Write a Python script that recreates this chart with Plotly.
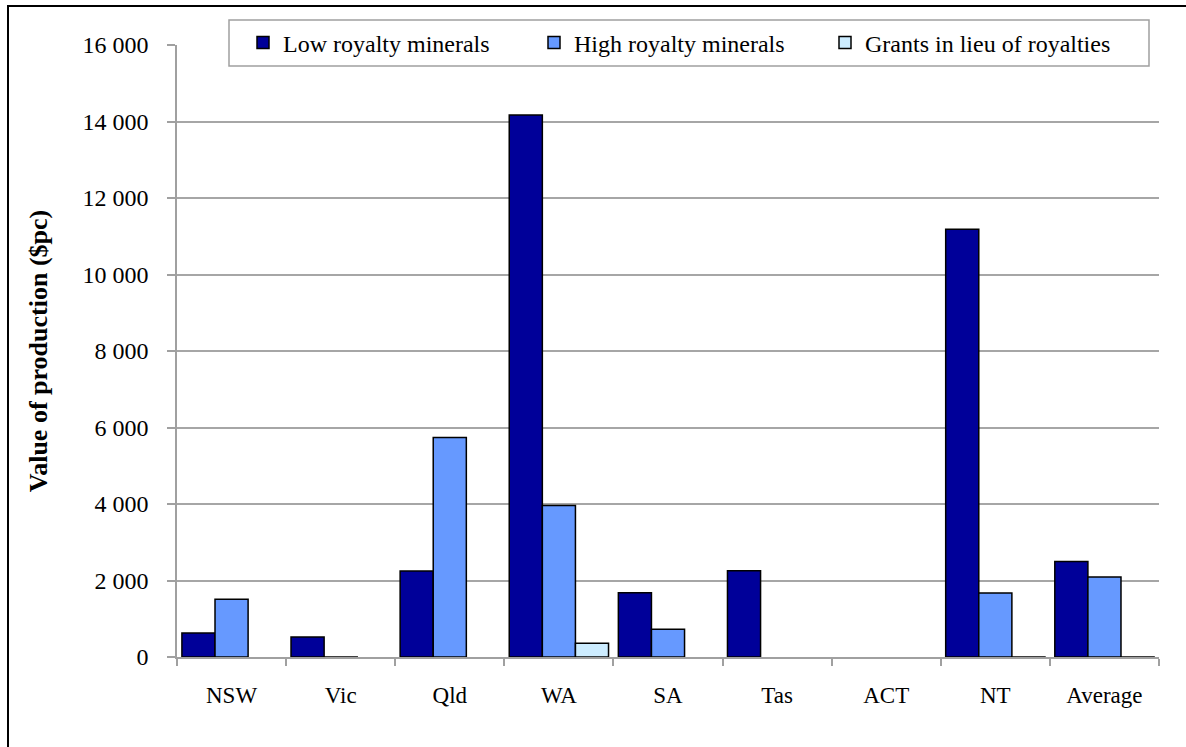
import plotly.graph_objects as go

categories = ["NSW", "Vic", "Qld", "WA", "SA", "Tas", "ACT", "NT", "Average"]
low_royalty = [630, 525, 2250, 14170, 1680, 2255, None, 11180, 2500]
high_royalty = [1510, -60, 5740, 3960, 725, None, None, 1670, 2090]
grants = [None, None, None, 360, None, None, None, -60, -60]
series_names = ["Low royalty minerals", "High royalty minerals", "Grants in lieu of royalties"]
colors = ["#000099", "#6699FF", "#CCECFF"]
y_ticks = [0, 2000, 4000, 6000, 8000, 10000, 12000, 14000, 16000]

FONT = "Liberation Serif, Times New Roman, serif"

fig = go.Figure()
for name, vals, col in zip(series_names, [low_royalty, high_royalty, grants], colors):
    fig.add_trace(go.Bar(
        x=categories, y=vals, name=name,
        marker=dict(color=col, line=dict(color="black", width=1.5)),
    ))

# plot area in px: x 177..1159, y 45..657
L, R, T, B = 177, 1159, 45, 657
W, H = R - L, B - T
def px(x):
    return (x - L) / W
def py(y):
    return (B - y) / H

fig.update_layout(
    width=1186, height=747,
    margin=dict(l=L, r=1186 - R, t=T, b=747 - B, pad=0),
    paper_bgcolor="white", plot_bgcolor="white",
    barmode="group", bargap=0.09, bargroupgap=0,
    separators=". ",
    font=dict(family=FONT, size=24, color="black"),
    showlegend=True,
    legend=dict(
        orientation="h",
        x=px(243), xanchor="left",
        y=py(43), yanchor="middle",
        bgcolor="rgba(0,0,0,0)", borderwidth=0,
        entrywidth=246, entrywidthmode="pixels",
        itemclick=False, itemdoubleclick=False,
        font=dict(family=FONT, size=24, color="black"),
    ),
    shapes=[
        # outer chart border (left & top visible)
        dict(type="rect", xref="paper", yref="paper",
             x0=px(8), x1=px(1250), y0=py(6), y1=py(800),
             line=dict(color="black", width=2), fillcolor="rgba(0,0,0,0)", layer="above"),
        # legend box
        dict(type="rect", xref="paper", yref="paper",
             x0=px(229), x1=px(1149), y0=py(20), y1=py(66),
             line=dict(color="#A0A0A0", width=1.5), fillcolor="white", layer="above"),
    ],
)

fig.update_yaxes(
    range=[0, 16000], tickvals=y_ticks, tickformat=",d",
    showgrid=True, gridcolor="#A6A6A6", gridwidth=1.5,
    showline=True, linecolor="#A0A0A0", linewidth=1.5,
    ticks="outside", ticklen=8, tickcolor="#A0A0A0", tickwidth=1.5,
    ticklabelstandoff=14,
    zeroline=False,
    tickfont=dict(family=FONT, size=24, color="black"),
    title=dict(text="<b>Value of production ($pc)</b>", standoff=27,
               font=dict(family=FONT, size=26, color="black")),
)
fig.update_xaxes(
    showline=True, linecolor="#A0A0A0", linewidth=1.5,
    ticks="outside", tickson="boundaries", ticklen=7, tickcolor="#A0A0A0", tickwidth=1.5,
    ticklabelstandoff=17,
    tickfont=dict(family=FONT, size=23, color="black"),
    showgrid=False,
)

fig.write_html("out.html")
